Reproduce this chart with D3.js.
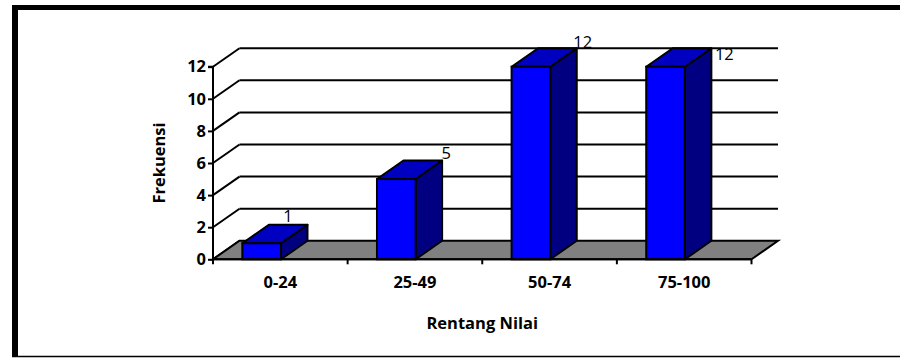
<!DOCTYPE html>
<html>
<head>
<meta charset="utf-8">
<script src="https://cdn.jsdelivr.net/npm/d3@7/dist/d3.min.js"></script>
<style>
  html, body { margin: 0; padding: 0; background: #fff; }
  svg { display: block; }
  text { font-family: "Open Sans", Lato, sans-serif; fill: #000; }
</style>
</head>
<body>
<svg id="chart" width="900" height="358"></svg>
<script>
// Frequency of scores per range
const categories = ["0-24", "25-49", "50-74", "75-100"];
const frekuensi = [1, 5, 12, 12];
const yTicks = [0, 2, 4, 6, 8, 10, 12];
const yTitle = "Frekuensi";
const xTitle = "Rentang Nilai";

const FONT = "'Open Sans', Lato, sans-serif";
const FS = "16.5px";
const svg = d3.select("#chart");

// Frame
svg.append("rect").attr("x", 12).attr("y", 5).attr("width", 888).attr("height", 5).attr("fill", "#000");
svg.append("rect").attr("x", 12).attr("y", 5).attr("width", 6).attr("height", 352).attr("fill", "#000");
svg.append("line").attr("x1", 12).attr("x2", 900).attr("y1", 356.5).attr("y2", 356.5)
  .attr("stroke", "#000").attr("stroke-width", 1.5);

// Front plane scales and depth offset for the 3D look
const x = d3.scaleBand().domain(categories).range([213, 751.5]).padding(0);
const y = d3.scaleLinear().domain([0, 12]).range([259.3, 66.7]);
const DX = 26.5, DY = -18.5;
const x0 = x.range()[0], x1 = x.range()[1];

const g = svg.append("g");

// Back wall gridlines and left wall diagonals
yTicks.forEach(t => {
  if (t > 0) {
    g.append("line")
      .attr("x1", x0 + DX).attr("x2", x1 + DX)
      .attr("y1", y(t) + DY).attr("y2", y(t) + DY)
      .attr("stroke", "#000").attr("stroke-width", 2);
  }
  g.append("line")
    .attr("x1", x0).attr("x2", x0 + DX)
    .attr("y1", y(t)).attr("y2", y(t) + DY)
    .attr("stroke", "#000").attr("stroke-width", 2);
});

// Floor
g.append("polygon")
  .attr("points", [[x0, y(0)], [x1, y(0)], [x1 + DX, y(0) + DY], [x0 + DX, y(0) + DY]].map(p => p.join(",")).join(" "))
  .attr("fill", "#808080").attr("stroke", "#000").attr("stroke-width", 2).attr("stroke-linejoin", "miter");

// Y axis
const yAxis = g.append("g").attr("transform", `translate(${x0},0)`)
  .call(d3.axisLeft(y).tickValues(yTicks).tickSize(5).tickPadding(2).tickFormat(d3.format("d")));
yAxis.select(".domain").attr("stroke", "#000").attr("stroke-width", 2).attr("d", `M-5,${y(12)}H0V${y(0)}`);
yAxis.selectAll(".tick line").attr("stroke", "#000").attr("stroke-width", 2);
yAxis.selectAll(".tick text").style("font-size", FS).style("font-weight", "bold")
  .style("font-family", FONT).attr("fill", "#000");

// Bars
const bw = x.bandwidth();
const barOff = bw * 0.218, barW = bw * 0.287;
const bars = g.selectAll("g.bar").data(categories.map((c, i) => ({ c, v: frekuensi[i] })))
  .enter().append("g").attr("class", "bar");

function pts(a) { return a.map(p => p.join(",")).join(" "); }

bars.each(function (d) {
  const sel = d3.select(this);
  const l = x(d.c) + barOff, r = l + barW;
  const top = y(d.v), bot = y(0);
  // side face
  sel.append("polygon")
    .attr("points", pts([[r, bot], [r + DX, bot + DY], [r + DX, top + DY], [r, top]]))
    .attr("fill", "#000080").attr("stroke", "#000").attr("stroke-width", 2).attr("stroke-linejoin", "round");
  // top face
  sel.append("polygon")
    .attr("points", pts([[l, top], [r, top], [r + DX, top + DY], [l + DX, top + DY]]))
    .attr("fill", "#0000C0").attr("stroke", "#000").attr("stroke-width", 2).attr("stroke-linejoin", "round");
  // front face
  sel.append("rect")
    .attr("x", l).attr("y", top).attr("width", barW).attr("height", bot - top)
    .attr("fill", "#0000FF").attr("stroke", "#000").attr("stroke-width", 2);
});

// X axis line with ticks at category boundaries
g.append("line").attr("x1", x0).attr("x2", x1).attr("y1", y(0)).attr("y2", y(0))
  .attr("stroke", "#000").attr("stroke-width", 2);
const bounds = categories.map(c => x(c)).concat([x1]);
bounds.forEach(b => {
  g.append("line").attr("x1", b).attr("x2", b).attr("y1", y(0)).attr("y2", y(0) + 5)
    .attr("stroke", "#000").attr("stroke-width", 2);
});
const xAxis = g.append("g").attr("transform", `translate(0,${y(0)})`)
  .call(d3.axisBottom(x).tickSize(0).tickPadding(17));
xAxis.select(".domain").remove();
xAxis.selectAll(".tick text").style("font-size", FS).style("font-weight", "bold")
  .style("font-family", FONT).attr("fill", "#000");

// Value labels near the top back corner of each bar
const nudge = [[-19.5, -3], [4, -2], [6, 0], [13, 12]];
bars.append("text")
  .attr("x", (d, i) => x(d.c) + barOff + barW + DX + nudge[i][0])
  .attr("y", (d, i) => y(d.v) + DY + nudge[i][1])
  .attr("text-anchor", "middle")
  .attr("fill", "#000")
  .style("font-family", FONT)
  .style("font-size", FS)
  .text(d => d.v);

// Axis titles
svg.append("text")
  .attr("transform", `translate(165,${(y(0) + y(12)) / 2}) rotate(-90)`)
  .attr("text-anchor", "middle")
  .attr("fill", "#000")
  .style("font-size", FS).style("font-weight", "bold")
  .text(yTitle);
svg.append("text")
  .attr("x", (x0 + x1) / 2).attr("y", 328.5)
  .attr("text-anchor", "middle")
  .attr("fill", "#000")
  .style("font-size", FS).style("font-weight", "bold")
  .text(xTitle);
</script>
</body>
</html>
